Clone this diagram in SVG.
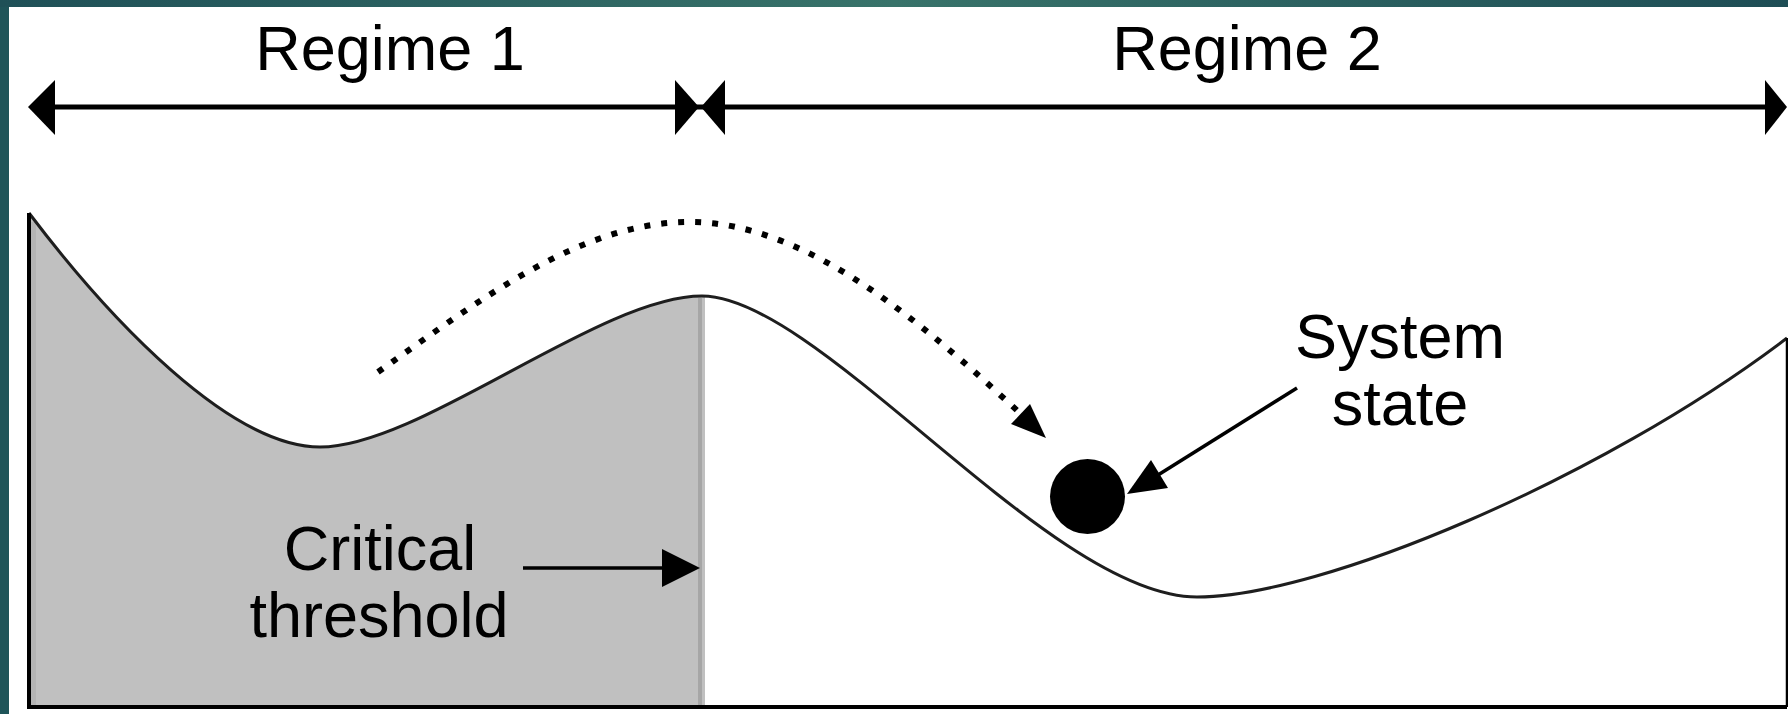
<svg xmlns="http://www.w3.org/2000/svg" width="1788" height="714" viewBox="0 0 1788 714">
  <defs>
    <linearGradient id="teal" x1="0" y1="0" x2="1" y2="0">
      <stop offset="0" stop-color="#1f5057"/>
      <stop offset="0.5" stop-color="#38736a"/>
      <stop offset="1" stop-color="#1e4d55"/>
    </linearGradient>
    <style>
      .lbl { font-family: "Liberation Sans", Arial, sans-serif; font-size: 63px; fill: #000; text-anchor: middle; }
      .head { fill: #000; stroke: none; }
      .conn { stroke: #000; fill: none; }
    </style>
  </defs>

  <g id="frame">
    <rect x="0" y="0" width="1788" height="714" fill="url(#teal)"/>
    <rect x="0" y="7" width="9" height="707" fill="#1f5459"/>
    <rect x="9" y="7" width="1779" height="707" fill="#ffffff"/>
  </g>

  <g id="landscape">
    <path d="M29,213 C110,320 230,447 320,447 C420,447 600,296 702,296 L705,296 L705,707 L29,707 Z" fill="#c0c0c0"/>
    <line x1="33.5" y1="222" x2="33.5" y2="705" stroke="#b4b4b4" stroke-width="5"/>
    <line x1="700" y1="298" x2="700" y2="705" stroke="#a6a6a6" stroke-width="4"/>
    <path d="M29,213 C110,320 230,447 320,447 C420,447 600,296 702,296 C820,296 1050,597 1197,597 C1320,597 1600,480 1787,338" fill="none" stroke="#1e1e1e" stroke-width="3"/>
    <path d="M29,213 L29,707 L1787,707" fill="none" stroke="#000" stroke-width="4"/>
    <line x1="1787" y1="338" x2="1787" y2="707" stroke="#000" stroke-width="2.5"/>
  </g>

  <g id="regime1-label">
    <text class="lbl" x="390" y="70">Regime 1</text>
  </g>
  <g id="regime2-label">
    <text class="lbl" x="1247" y="70">Regime 2</text>
  </g>
  <g id="system-state-label">
    <text class="lbl" x="1400" y="358">System</text>
    <text class="lbl" x="1400" y="425">state</text>
  </g>
  <g id="critical-threshold-label">
    <text class="lbl" x="380" y="570">Critical</text>
    <text class="lbl" x="379" y="637">threshold</text>
  </g>
  <g id="system-state">
    <circle cx="1087.5" cy="496.5" r="37.5" fill="#000"/>
  </g>

  <g id="connectors">
    <line class="conn" x1="40" y1="107" x2="1775" y2="107" stroke-width="5"/>
    <polygon class="head" points="28,107 55,80 55,135"/>
    <polygon class="head" points="699,107 675,80 675,135"/>
    <polygon class="head" points="701,107 725,80 725,135"/>
    <polygon class="head" points="1787,107 1765,80 1765,135"/>

    <path class="conn" d="M378,372 C480,300 580,222 690,222 C810,222 930,330 1022,415" stroke-width="6" stroke-dasharray="6 11"/>
    <polygon class="head" points="1046,438 1011,424 1030,404"/>

    <line class="conn" x1="523" y1="568" x2="665" y2="568" stroke-width="3.5"/>
    <polygon class="head" points="700,568 662,549 662,587"/>

    <line class="conn" x1="1297" y1="388" x2="1158" y2="475" stroke-width="3.5"/>
    <polygon class="head" points="1127,494 1168,488 1151,460"/>
  </g>
</svg>
